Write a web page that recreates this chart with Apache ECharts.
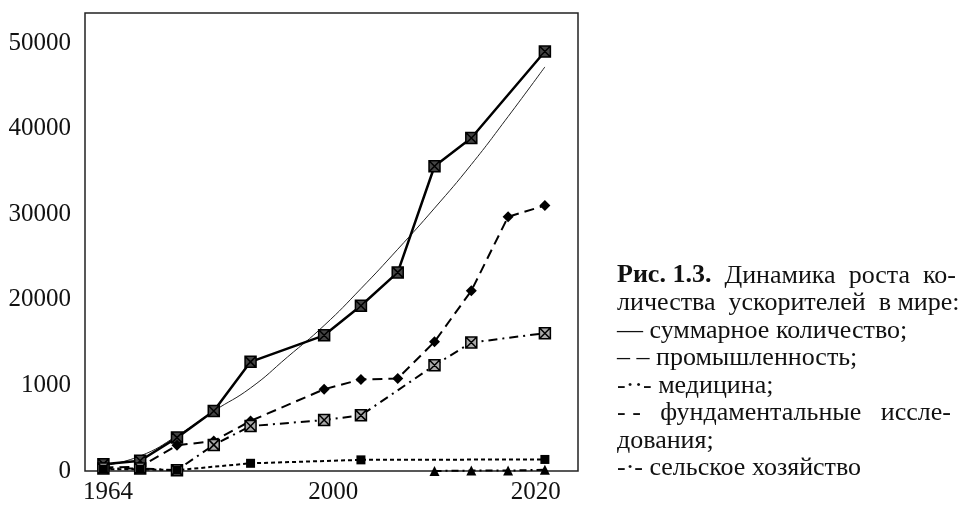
<!DOCTYPE html>
<html>
<head>
<meta charset="utf-8">
<script src="https://cdn.jsdelivr.net/npm/echarts@6/dist/echarts.min.js"></script>
<style>
  html, body { margin: 0; padding: 0; background: #fff; }
  #chart { width: 960px; height: 510px; }
</style>
</head>
<body>
<div id="chart"></div>
<script>
// точки по оси X - порядковые номера, подписи только у трёх
const xTickPos = [0.125, 6.25, 11.75];
const xTickLabels = ['1964', '2000', '2020'];
// в оригинале вместо 10000 написано 1000
const yTickLabels = ['0', '1000', '20000', '30000', '40000', '50000'];

const totalX = [0, 1, 2, 3, 4, 6, 7, 8, 9, 10, 12];
const totalY = [800, 1200, 3900, 7000, 12750, 15850, 19300, 23200, 35600, 38900, 49000];

const trendX = [0, 1, 2, 3, 4, 5, 6, 7, 8, 9, 10, 11, 12];
const trendY = [600, 1750, 4100, 7000, 9700, 13300, 17000, 21300, 25900, 30700, 35800, 41400, 47200];

const industryX = [0, 1, 2, 3, 4, 6, 7, 8, 9, 10, 11, 12];
const industryY = [400, 500, 3000, 3500, 5850, 9550, 10700, 10800, 15100, 21050, 29700, 31000];

const medicineX = [0, 1, 2, 3, 4, 6, 7, 9, 10, 12];
const medicineY = [300, 300, 100, 3050, 5250, 5950, 6500, 12350, 15000, 16100];

const fundamentalX = [0, 1, 2, 4, 7, 12];
const fundamentalY = [200, 200, 100, 900, 1300, 1350];

const agricultureX = [9, 10, 11, 12];
const agricultureY = [0, 50, 50, 150];

// лишние пробелы - чтобы строки выглядели выключенными по ширине, как в книге
const captionLines = [
  '{b|Рис. 1.3.}  Динамика  роста  ко-',
  'личества  ускорителей  в мире:',
  '— суммарное количество;',
  '– – промышленность;',
  '-··- медицина;',
  '- -   фундаментальные   иссле-',
  'дования;',
  '-·- сельское хозяйство'
];

const pairs = (xs, ys) => xs.map((x, i) => [x, ys[i]]);
const crossBox = 'path://M0,0H10V10H0Z M0,0L10,10 M10,0L0,10';
const font = 'Liberation Serif';

const chart = echarts.init(document.getElementById('chart'));

const option = {
  animation: false,
  grid: {
    left: 85,
    top: 13,
    right: 382,
    bottom: 39,
    show: true,
    borderColor: '#222',
    borderWidth: 1.5
  },
  xAxis: {
    type: 'value',
    min: -0.5,
    max: 12.9,
    interval: 0.125,
    axisLine: { show: false },
    axisTick: { show: false },
    splitLine: { show: false },
    axisLabel: {
      margin: 9,
      fontFamily: font,
      fontSize: 25,
      color: '#111',
      formatter: (v) => {
        const k = xTickPos.findIndex(p => Math.abs(p - v) < 1e-6);
        return k >= 0 ? xTickLabels[k] : '';
      }
    }
  },
  yAxis: {
    type: 'value',
    min: 0,
    max: 53500,
    interval: 10000,
    axisLine: { show: false },
    axisTick: { show: false },
    splitLine: { show: false },
    axisLabel: {
      margin: 14,
      showMaxLabel: false,
      fontFamily: font,
      fontSize: 25,
      color: '#111',
      formatter: (v) => yTickLabels[Math.round(v / 10000)] || ''
    }
  },
  graphic: [{
    type: 'text',
    left: 617,
    top: 262,
    style: {
      text: captionLines.join('\n'),
      font: '26px "Liberation Serif"',
      fill: '#111',
      lineHeight: 27.5,
      rich: {
        b: { font: 'bold 26px "Liberation Serif"', fill: '#111', lineHeight: 27.5 }
      }
    }
  }],
  series: [
    {
      name: 'тренд',
      type: 'line',
      smooth: true,
      symbol: 'none',
      data: pairs(trendX, trendY),
      lineStyle: { color: '#222', width: 1 }
    },
    {
      name: 'суммарное количество',
      type: 'line',
      data: pairs(totalX, totalY),
      symbol: crossBox,
      symbolSize: 11,
      itemStyle: { color: '#444', borderColor: '#000', borderWidth: 1.5 },
      lineStyle: { color: '#000', width: 2.5 }
    },
    {
      name: 'промышленность',
      type: 'line',
      data: pairs(industryX, industryY),
      symbol: 'diamond',
      symbolSize: 11,
      itemStyle: { color: '#000' },
      lineStyle: { color: '#000', width: 2, type: [10, 6] }
    },
    {
      name: 'медицина',
      type: 'line',
      data: pairs(medicineX, medicineY),
      symbol: crossBox,
      symbolSize: 11,
      itemStyle: { color: '#aaa', borderColor: '#000', borderWidth: 1.5 },
      lineStyle: { color: '#000', width: 2, type: [9, 5, 2, 5] }
    },
    {
      name: 'фундаментальные исследования',
      type: 'line',
      data: pairs(fundamentalX, fundamentalY),
      symbol: 'rect',
      symbolSize: 9,
      itemStyle: { color: '#000' },
      lineStyle: { color: '#000', width: 2, type: [4, 3] }
    },
    {
      name: 'сельское хозяйство',
      type: 'line',
      data: pairs(agricultureX, agricultureY),
      symbol: 'triangle',
      symbolSize: 10,
      itemStyle: { color: '#000' },
      lineStyle: { color: '#000', width: 2, type: [7, 4, 2, 4] }
    }
  ]
};

chart.setOption(option);
</script>
</body>
</html>
